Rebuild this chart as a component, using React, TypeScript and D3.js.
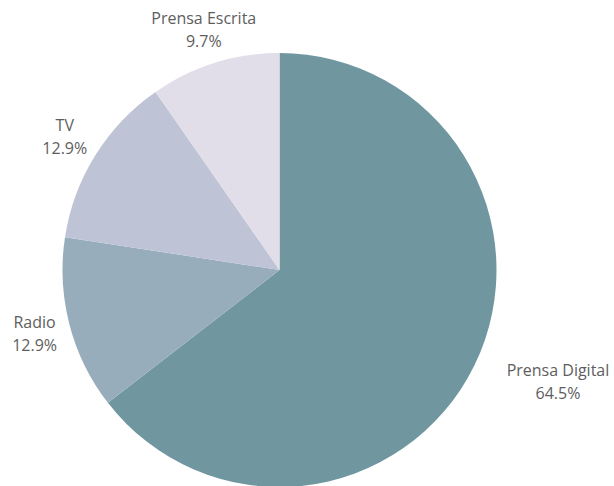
import React, { useEffect, useRef } from "react";
import * as d3 from "d3";

const categories = ["Prensa Digital", "Radio", "TV", "Prensa Escrita"];
const values = [20, 4, 4, 3];
const percentLabels = ["64.5%", "12.9%", "12.9%", "9.7%"];
const colors = ["#7097a0", "#98adbc", "#bec3d6", "#e1dee9"];

const W = 614;
const H = 486;

export default function App() {
  const ref = useRef<SVGSVGElement | null>(null);

  useEffect(() => {
    const svg = d3.select(ref.current);
    svg.selectAll("*").remove();
    const cx = 279.5;
    const cy = 270;
    const r = 217;
    const data = categories.map((c, i) => ({ c, v: values[i], p: percentLabels[i], col: colors[i] }));
    const pie = d3.pie<any>().value((d) => d.v).sort(null);
    const arcs = pie(data);
    const arc = d3.arc<any>().innerRadius(0).outerRadius(r);
    const g = svg.append("g").attr("transform", `translate(${cx},${cy})`);
    g.selectAll("path")
      .data(arcs)
      .enter()
      .append("path")
      .attr("d", arc as any)
      .attr("fill", (d: any) => d.data.col);

    const R = 253;
    arcs.forEach((a: any) => {
      const mid = (a.startAngle + a.endAngle) / 2;
      let x = cx + R * Math.sin(mid);
      const y = cy - R * Math.cos(mid);
      const t = svg
        .append("text")
        .attr("text-anchor", "middle")
        .attr("font-family", "'Open Sans', sans-serif")
        .attr("font-size", 16)
        .attr("fill", "#5e5e5e");
      const l1 = t.append("tspan").attr("x", x).attr("y", y - 5).text(a.data.c);
      const l2 = t.append("tspan").attr("x", x).attr("y", y + 18).text(a.data.p);
      if (Math.sin(mid) > 0.5) {
        // right-side label: center block to the right of anchor point
        const w1 = (l1.node() as SVGTSpanElement).getComputedTextLength();
        x = x + w1 / 2;
        t.selectAll("tspan").attr("x", x);
      }
      const bb = (t.node() as SVGTextElement).getBBox();
      let shift = 0;
      if (bb.x + bb.width > W - 1) shift = W - 1 - (bb.x + bb.width);
      if (bb.x < 1) shift = 1 - bb.x;
      if (shift !== 0) {
        x += shift;
        t.selectAll("tspan").attr("x", x);
      }
      void l2;
    });
  }, []);

  return (
    <svg
      ref={ref}
      width={W}
      height={H}
      style={{ position: "absolute", left: 0, top: 0, background: "#fff" }}
    />
  );
}
